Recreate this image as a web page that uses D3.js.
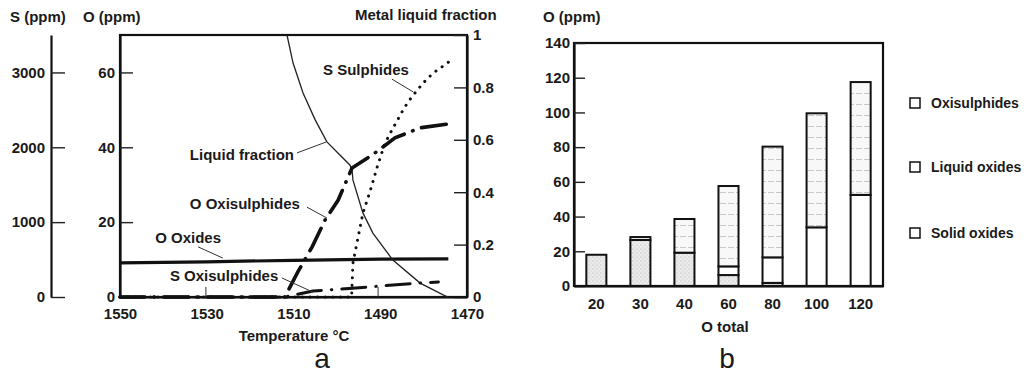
<!DOCTYPE html>
<html>
<head>
<meta charset="utf-8">
<script src="https://cdn.jsdelivr.net/npm/d3@7/dist/d3.min.js"></script>
<style>
  body { margin: 0; background: #fff; }
  svg text { font-family: "Liberation Sans", Arial, sans-serif; font-size: 15px; font-weight: bold; fill: #1a1a1a; }
  .big { font-weight: normal !important; font-size: 28px !important; }
  .leg text { font-size: 14px; }
</style>
</head>
<body>
<svg width="1027" height="375"></svg>
<script>
// ---- panel a data ----
var tempTicks = [1550, 1530, 1510, 1490, 1470];
var oTicks = [0, 20, 40, 60];
var sTicks = [0, 1000, 2000, 3000];
var fracTicks = [0, 0.2, 0.4, 0.6, 0.8, 1];

// liquid fraction (right axis)
var liqT = [1511.5, 1510.1, 1507.8, 1505.0, 1502.3, 1499.3, 1497.0, 1496.5, 1496.3, 1494.0, 1491.7, 1487.1, 1480.8, 1475.5, 1474.4];
var liqF = [1.0, 0.893, 0.779, 0.676, 0.592, 0.542, 0.504, 0.485, 0.447, 0.321, 0.244, 0.141, 0.053, 0.008, 0];

// S sulphides (S axis)
var sulT = [1550, 1496.6, 1496.3, 1495.1, 1494.0, 1492.4, 1490.7, 1488.9, 1487.3, 1485.0, 1483.6, 1482.0, 1480.1, 1477.8, 1475.8, 1473.9];
var sulS = [0, 0, 450, 800, 1120, 1400, 1737, 2057, 2231, 2471, 2605, 2725, 2859, 2992, 3073, 3153];

// O oxisulphides (O axis)
var oxsT = [1550, 1512.0, 1509.0, 1505.7, 1502.7, 1499.7, 1496.5, 1491.9, 1486.6, 1480.8, 1474.4];
var oxsO = [0, 0, 6.7, 13.4, 20.6, 25.9, 34.5, 37.9, 42.5, 45.2, 46.2];

// O oxides (O axis)
var oxdT = [1550, 1530, 1510, 1490, 1474.3];
var oxdO = [9.1, 9.4, 9.8, 10.1, 10.2];

// S oxisulphides (S axis)
var sxsT = [1550, 1512.0, 1505.5, 1492.8, 1480.8, 1476.6];
var sxsS = [0, 0, 80, 134, 187, 200];

// ---- panel b data ----
var oTotal = ["20", "30", "40", "60", "80", "100", "120"];
var oxisulphides = [18, 26.5, 19.2, 6.3, 1.8, 0, 0];
var solidOxides = [0, 0, 0, 5, 14.7, 33.8, 52.5];
var liquidOxides = [0, 1.7, 19.4, 46.3, 63.8, 65.7, 65];
var bTicks = [0, 20, 40, 60, 80, 100, 120, 140];

var svg = d3.select('svg');

// patterns
var defs = svg.append('defs');
var stip = defs.append('pattern').attr('id', 'stip').attr('patternUnits', 'userSpaceOnUse')
  .attr('width', 4).attr('height', 4);
stip.append('rect').attr('width', 4).attr('height', 4).attr('fill', '#ebebeb');
stip.append('circle').attr('cx', 1).attr('cy', 1).attr('r', 0.6).attr('fill', '#aaa');
stip.append('circle').attr('cx', 3).attr('cy', 3).attr('r', 0.5).attr('fill', '#c4c4c4');
var hatch = defs.append('pattern').attr('id', 'hatch').attr('patternUnits', 'userSpaceOnUse')
  .attr('width', 8).attr('height', 11);
hatch.append('rect').attr('width', 8).attr('height', 11).attr('fill', '#f8f8f8');
hatch.append('line').attr('x1', 0).attr('x2', 6).attr('y1', 5.5).attr('y2', 5.5)
  .attr('stroke', '#c8c8c8').attr('stroke-width', 1);

// ================= panel a =================
var x = d3.scaleLinear().domain([1550, 1470]).range([120, 467]);
var yO = d3.scaleLinear().domain([0, 70]).range([297, 35]);
var yS = d3.scaleLinear().domain([0, 3500]).range([297, 35]);
var yF = d3.scaleLinear().domain([0, 1]).range([297, 35]);

function styleAxis(g) {
  g.select('.domain').attr('stroke-width', 2.2).attr('stroke', '#111');
  g.selectAll('.tick line').attr('stroke-width', 1.4).attr('stroke', '#222');
  g.selectAll('text').attr('font-size', null).attr('font-family', null).attr('fill', null);
}

// separate S axis
svg.append('g').attr('transform', 'translate(51,0)')
  .call(d3.axisLeft(yS).tickValues(sTicks).tickSize(-14).tickSizeOuter(0).tickPadding(6).tickFormat(d3.format('d')))
  .call(styleAxis);

// box
svg.append('rect').attr('x', x(1550)).attr('y', yO(70))
  .attr('width', x(1470) - x(1550)).attr('height', yO(0) - yO(70))
  .attr('fill', 'none').attr('stroke', '#111').attr('stroke-width', 2.2);

svg.append('g').attr('transform', 'translate(' + x(1550) + ',0)')
  .call(d3.axisLeft(yO).tickValues(oTicks).tickSize(-13).tickSizeOuter(0).tickPadding(5))
  .call(styleAxis);
svg.append('g').attr('transform', 'translate(' + x(1470) + ',0)')
  .call(d3.axisRight(yF).tickValues(fracTicks).tickSize(-13).tickSizeOuter(0).tickPadding(6).tickFormat(d3.format('~g')))
  .call(styleAxis);
svg.append('g').attr('transform', 'translate(0,' + yO(0) + ')')
  .call(d3.axisBottom(x).tickValues(tempTicks).tickSize(0).tickPadding(11).tickFormat(d3.format('d')))
  .call(styleAxis);

// curves
function path(ts, vs, ys) {
  var pts = ts.map(function(t, i) { return [x(t), ys(vs[i])]; });
  return d3.line()(pts);
}
svg.append('path').attr('d', path(oxdT, oxdO, yO))
  .attr('fill', 'none').attr('stroke', '#111').attr('stroke-width', 3.2);
svg.append('path').attr('d', path(liqT, liqF, yF))
  .attr('fill', 'none').attr('stroke', '#222').attr('stroke-width', 1.3);
svg.append('path').attr('d', path(sulT, sulS, yS))
  .attr('fill', 'none').attr('stroke', '#111').attr('stroke-width', 3)
  .attr('stroke-linecap', 'round').attr('stroke-dasharray', '0.1,7.5');
svg.append('path').attr('d', path(oxsT, oxsO, yO))
  .attr('fill', 'none').attr('stroke', '#111').attr('stroke-width', 3.6)
  .attr('stroke-linecap', 'round').attr('stroke-dasharray', '25,9,0.5,9');
svg.append('path').attr('d', path(sxsT, sxsS, yS))
  .attr('fill', 'none').attr('stroke', '#111').attr('stroke-width', 3)
  .attr('stroke-linecap', 'round').attr('stroke-dasharray', '24,10,0.5,10');

// annotations (data units)
var notes = [
  { t: 'S Sulphides', T: 1503.2, O: 59.3 },
  { t: 'Liquid fraction', T: 1533.9, O: 36.6 },
  { t: 'O Oxisulphides', T: 1533.9, O: 23.5 },
  { t: 'O Oxides', T: 1541.9, O: 14.4 },
  { t: 'S Oxisulphides', T: 1538.5, O: 4.3 }
];
var leaders = [
  [1487.3, 58.2, 1482.4, 54.8],
  [1509.2, 38.5, 1502.5, 41.4],
  [1506.9, 24.0, 1502.3, 21.1],
  [1532.0, 13.4, 1526.3, 10.4],
  [1530.2, 2.7, 1530.2, 0],
  [1512.7, 5.1, 1505.5, 1.3],
  [1490.5, 2.7, 1490.5, 0]
];
svg.selectAll('.note').data(notes).enter().append('text')
  .attr('x', function(d) { return x(d.T); }).attr('y', function(d) { return yO(d.O); })
  .text(function(d) { return d.t; });
svg.selectAll('.lead').data(leaders).enter().append('line')
  .attr('x1', function(d) { return x(d[0]); }).attr('y1', function(d) { return yO(d[1]); })
  .attr('x2', function(d) { return x(d[2]); }).attr('y2', function(d) { return yO(d[3]); })
  .attr('stroke', '#333').attr('stroke-width', 1);

svg.append('text').attr('x', 10).attr('y', 22).text('S (ppm)');
svg.append('text').attr('x', 83).attr('y', 22).text('O (ppm)');
svg.append('text').attr('x', 355).attr('y', 20).text('Metal liquid fraction');
svg.append('text').attr('x', 294).attr('y', 341).attr('text-anchor', 'middle').text('Temperature \u00b0C');
svg.append('text').attr('class', 'big').attr('x', 322).attr('y', 368).attr('text-anchor', 'middle').text('a');

// ================= panel b =================
var xb = d3.scaleBand().domain(oTotal).range([574, 883]).paddingInner(0.545).paddingOuter(0.28);
var yb = d3.scaleLinear().domain([0, 140]).range([286, 43]);

var rows = oTotal.map(function(c, i) {
  return { cat: c, oxisulphides: oxisulphides[i], solid: solidOxides[i], liquid: liquidOxides[i] };
});
var stack = d3.stack().keys(['oxisulphides', 'solid', 'liquid'])(rows);
var fills = { oxisulphides: 'url(#stip)', solid: '#fff', liquid: 'url(#hatch)' };

stack.forEach(function(layer) {
  svg.append('g').selectAll('rect')
    .data(layer.filter(function(d) { return d[1] - d[0] > 0; }))
    .enter().append('rect')
    .attr('x', function(d) { return xb(d.data.cat); })
    .attr('width', xb.bandwidth())
    .attr('y', function(d) { return yb(d[1]); })
    .attr('height', function(d) { return yb(d[0]) - yb(d[1]); })
    .attr('fill', fills[layer.key])
    .attr('stroke', '#111').attr('stroke-width', 2);
});

svg.append('rect').attr('x', 574).attr('y', yb(140)).attr('width', 883 - 574).attr('height', yb(0) - yb(140))
  .attr('fill', 'none').attr('stroke', '#111').attr('stroke-width', 2.2);
svg.append('g').attr('transform', 'translate(574,0)')
  .call(d3.axisLeft(yb).tickValues(bTicks).tickSize(-11).tickSizeOuter(0).tickPadding(4))
  .call(styleAxis);
svg.append('g').attr('transform', 'translate(0,' + yb(0) + ')')
  .call(d3.axisBottom(xb).tickSize(0).tickPadding(12))
  .call(styleAxis);

svg.append('text').attr('x', 543).attr('y', 22).text('O (ppm)');
svg.append('text').attr('x', 725).attr('y', 332).attr('text-anchor', 'middle').text('O total');
svg.append('text').attr('class', 'big').attr('x', 727).attr('y', 368).attr('text-anchor', 'middle').text('b');

// legend
var legend = ['Oxisulphides', 'Liquid oxides', 'Solid oxides'];
var legY = [103, 167, 233];
var lg = svg.selectAll('.leg').data(legend).enter().append('g').attr('class', 'leg')
  .attr('transform', function(d, i) { return 'translate(910,' + legY[i] + ')'; });
lg.append('rect').attr('x', 0).attr('y', -5).attr('width', 10).attr('height', 10)
  .attr('fill', '#fff').attr('stroke', '#111').attr('stroke-width', 1.5);
lg.append('text').attr('x', 21).attr('y', 5).text(function(d) { return d; });
</script>
</body>
</html>
